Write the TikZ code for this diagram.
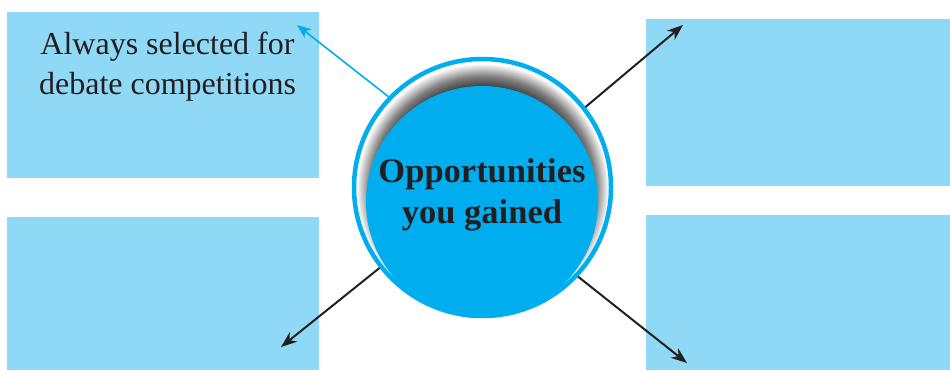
\documentclass[tikz,border=0pt]{standalone}
\usepackage{fontspec}
\setmainfont{Liberation Serif}
\usetikzlibrary{arrows.meta}
\definecolor{boxblue}{RGB}{143,216,246}
\definecolor{cyanblue}{RGB}{0,174,239}
\definecolor{inkdark}{RGB}{35,31,32}
\pgfdeclareradialshading{haloshade}{\pgfpoint{0bp}{0bp}}{%
  color(0bp)=(black!75); color(20.5bp)=(black!75); color(22.5bp)=(black!50);
  color(25bp)=(white); color(50bp)=(white)}
\tikzset{
  boxfill/.style={fill=boxblue},
  blackarrow/.style={draw=inkdark, line width=2pt,
    -{Stealth[length=16pt,width=12pt,inset=5pt]}},
  bluearrow/.style={draw=cyanblue, line width=1.6pt,
    -{Stealth[length=14pt,width=11pt,inset=4pt]}},
}
\begin{document}
\begin{tikzpicture}[x=1pt,y=-1pt]
\useasboundingbox (0,0) rectangle (950,370);
% boxes
\fill[boxfill] (7,12) rectangle (319,178);
\fill[boxfill] (7,217) rectangle (319,370);
\fill[boxfill] (646,19) rectangle (950,186);
\fill[boxfill] (646,215) rectangle (950,370);
% box text
\node[align=center, text=inkdark, font=\fontsize{32}{40}\selectfont, inner sep=0pt]
  (boxtext) at (167.5,66.5) {Always selected for\\debate competitions};
% circle
\node[circle, fill=white, minimum size=257pt, line width=4.5pt,
  inner sep=0pt] (c) at (482.5,187.5) {};
\shade[shading=haloshade] (482.5,189.5) circle[radius=126];
\fill[cyanblue] (482,202) circle[radius=116];
\draw[cyanblue, line width=4.5pt] (c.center) circle[radius=128.5];
\node[align=center, text=inkdark, font=\fontsize{34.5}{41}\selectfont\bfseries,
  inner sep=0pt] (lbl) at (482,194.5) {Opportunities\\you gained};
% arrow ends
\coordinate (tipTL) at (297,25);
\coordinate (tipTR) at (683,25);
\coordinate (tipBL) at (281,347);
\coordinate (tipBR) at (687,363);
\draw[bluearrow] (c.136.2) -- (tipTL);
\draw[blackarrow] (c.38.8) -- (tipTR);
\draw[blackarrow] (c.218) -- (tipBL);
\draw[blackarrow] (c.317) -- (tipBR);
\end{tikzpicture}
\end{document}
